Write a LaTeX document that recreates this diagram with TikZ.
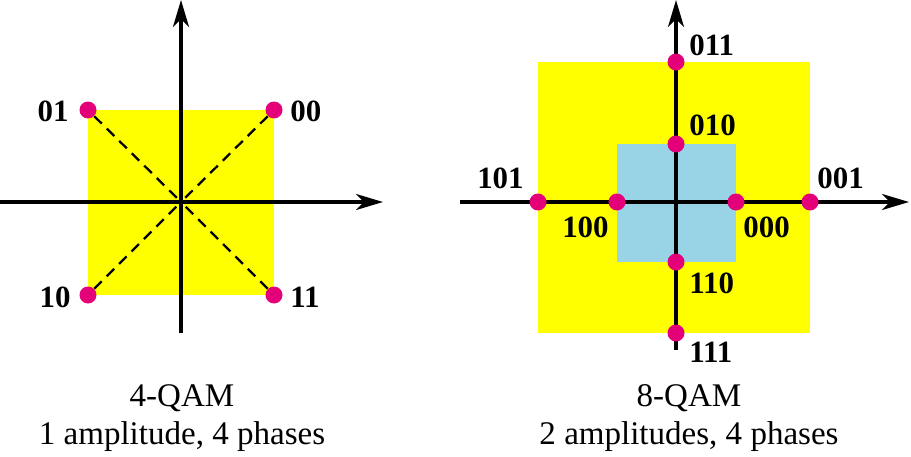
\documentclass[tikz,border=0pt]{standalone}
\usepackage{tikz}
\usepackage{xcolor}
\usepackage{fontspec}
\setmainfont{Liberation Serif}
\usetikzlibrary{arrows.meta,positioning}
\definecolor{qamyellow}{RGB}{255,255,0}
\definecolor{qamblue}{RGB}{152,212,230}
\definecolor{dotpink}{RGB}{228,0,120}

\begin{document}
\begin{tikzpicture}[x=0.02cm,y=-0.02cm,
  >={Stealth[length=0.54cm,width=0.32cm,inset=0.16cm]},
  axis/.style={->,line width=2pt},
  ray/.style={dashed,line width=1.3pt,dash pattern=on 6pt off 4pt},
  dot/.style={circle,fill=dotpink,inner sep=0pt,minimum size=0.34cm},
  bits/.style={font=\fontsize{17.6}{20}\selectfont\bfseries,inner sep=0pt},
  caption/.style={font=\fontsize{18.8}{21.5}\selectfont,align=center,inner sep=0pt}]

\useasboundingbox (0,0) rectangle (911,456);

%% ── 4-QAM ────────────────────────────────────────────────────────────────
\fill[qamyellow] (88,110) rectangle (274,295);

\coordinate (o4) at (181,202);
\coordinate (xl4) at (0,202);
\coordinate (xr4) at (383,202);
\coordinate (yb4) at (181,333);
\coordinate (yt4) at (181,0);

\node[dot] (d01) at (88,110) {};
\node[dot] (d00) at (274,110) {};
\node[dot] (d10) at (88,295) {};
\node[dot] (d11) at (274,295) {};

%% dashed rays to origin
\draw[ray] (d01) -- (o4);
\draw[ray] (d00) -- (o4);
\draw[ray] (d10) -- (o4);
\draw[ray] (d11) -- (o4);

\draw[axis] (xl4) -- (xr4);
\draw[axis] (yb4) -- (yt4);

\node[bits,anchor=base east] (l01) at (69,121) {01};
\node[bits,anchor=base west] (l00) at (290,121) {00};
\node[bits,anchor=base east] (l10) at (71,307) {10};
\node[bits,anchor=base west] (l11) at (290,307) {11};

\node[caption] (cap4) at (182,418) {4-QAM\\1 amplitude, 4 phases};

%% ── 8-QAM ────────────────────────────────────────────────────────────────
\fill[qamyellow] (538,62) rectangle (810,333);
\fill[qamblue] (617,144) rectangle (736,262);

\coordinate (xl8) at (460,202);
\coordinate (xr8) at (909,202);
\coordinate (yb8) at (676,350);
\coordinate (yt8) at (676,0);

\draw[axis] (xl8) -- (xr8);
\draw[axis] (yb8) -- (yt8);

\node[dot] (d011) at (676,62) {};
\node[dot] (d010) at (676,144) {};
\node[dot] (d101) at (538,202) {};
\node[dot] (d100) at (617,202) {};
\node[dot] (d000) at (736,202) {};
\node[dot] (d001) at (810,202) {};
\node[dot] (d110) at (676,262) {};
\node[dot] (d111) at (676,333) {};

\node[bits,anchor=base west] (l011) at (689,55) {011};
\node[bits,anchor=base west] (l010) at (689,135) {010};
\node[bits,anchor=base east] (l101) at (524,188) {101};
\node[bits,anchor=base west] (l001) at (817,188) {001};
\node[bits,anchor=base east] (l100) at (609,237) {100};
\node[bits,anchor=base west] (l000) at (743,237) {000};
\node[bits,anchor=base west] (l110) at (689,293) {110};
\node[bits,anchor=base west] (l111) at (689,362) {111};

\node[caption] (cap8) at (689,418) {8-QAM\\2 amplitudes, 4 phases};

\end{tikzpicture}
\end{document}
